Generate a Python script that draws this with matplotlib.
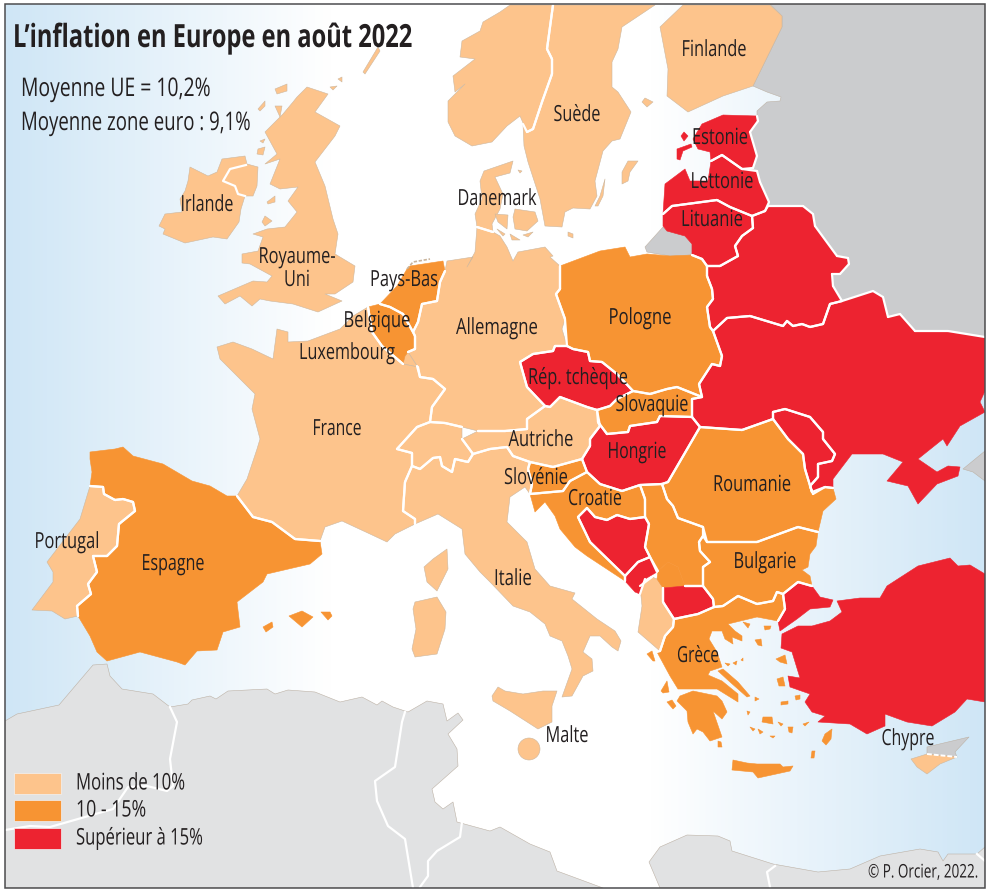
import numpy as np
import matplotlib
matplotlib.use("Agg")
import matplotlib.pyplot as plt
from matplotlib.colors import LinearSegmentedColormap
from matplotlib.path import Path
from matplotlib.patches import Polygon, Rectangle, Circle
from matplotlib.patheffects import AbstractPathEffect
from matplotlib.transforms import Affine2D

plt.rcParams['font.family'] = ['Open Sans', 'DejaVu Sans']

LOW, MID, HIGH = '#FDC48C', '#F79433', '#ED2330'
TEXT = '#231F20'

TITLE = 'L’inflation en Europe en août 2022'
AVERAGES = ['Moyenne UE = 10,2%', 'Moyenne zone euro : 9,1%']
LEGEND = ['Moins de 10%', '10 - 15%', 'Supérieur à 15%']
CREDIT = '© P. Orcier, 2022.'

# Map outlines, in picture coordinates
RUSSIA = [(770,5),(782,17),(782,28),(753,87),(767,93),(781,98),(780,102),(767,103),(757,112),(757,118),(740,140),(740,190),(740,250),(760,300),(800,340),(985,345),(985,5)]
KALININGRAD = [(663,228),(645,248),(647,253),(670,257),(692,256),(692,245),(685,237),(667,232)]
AZOV_RU = [(963,470),(985,452),(985,482),(973,473)]
N_AFRICA = [(5,722),(17,715),(59,706),(93,666),(107,665),(110,677),(122,690),(153,695),(170,708),(188,705),(192,701),(210,697),(216,700),(228,692),(267,690),(275,695),(288,691),(315,693),(340,703),(362,698),(377,706),(382,702),(393,708),(408,713),(427,702),(443,705),(447,722),(458,714),(463,721),(448,735),(457,750),(458,767),(432,790),(435,803),(443,810),(453,803),(457,823),(490,832),(500,828),(530,845),(550,853),(557,872),(603,889),(5,889)]
E_AFRICA = [(660,889),(649,863),(660,848),(687,836),(718,837),(730,842),(732,852),(773,865),(818,873),(850,870),(880,857),(920,850),(938,853),(943,862),(948,855),(977,855),(985,848),(985,889)]
N_CYPRUS = [(927,748),(969,738),(955,753),(957,758),(927,755)]

AFRICA_BORDERS = [
    [(170,708),(177,723),(170,760),(173,787),(167,792),(147,787),(128,788),(113,810),(50,828),(30,827),(5,831)],
    [(405,713),(402,723),(395,768),(375,782),(377,802),(388,827),(405,840),(413,889)],
    [(462,823),(460,838),(437,852),(428,862),(428,877),(420,888)],
    [(775,867),(767,873),(770,888)],
    [(977,855),(985,862)],
]
N_IRELAND_BORDER = [(246,166),(230,170),(223,182),(235,187),(238,195),(245,197)]
CYPRUS_LINE = [(927,755),(957,758)]
FRISIAN = [(407,270),(413,263),(430,260)]

UK = [(307,88),(328,95),(315,113),(340,127),(335,137),(315,163),(325,187),(333,220),(338,235),(335,255),(355,267),(353,283),(335,295),(325,295),(342,302),(318,313),(293,305),(270,302),(260,300),(252,307),(240,297),(225,305),(218,297),(253,282),(267,283),(272,277),(250,265),(242,264),(242,255),(258,252),(263,238),(253,235),(267,230),(285,228),(297,213),(288,202),(298,188),(280,190),(270,185),(280,160),(265,165),(277,155),(265,133),(283,115),(293,103),(297,98)]
UK_ISLES = [
    [(275,90),(287,85),(287,92),(277,95)],
    [(275,107),(282,107),(280,118)],
    [(258,110),(265,102),(265,107),(260,112)],
    [(260,142),(265,140),(263,144)],
    [(258,150),(265,148),(263,156),(257,155)],
    [(363,73),(375,53),(378,48),(380,52),(365,75)],
    [(330,88),(337,87),(333,91)],
    [(338,80),(342,78),(342,83)],
    [(267,203),(275,197),(275,203),(268,205)],
    [(262,223),(265,217),(272,222),(265,227)],
]
IRELAND = [(190,168),(208,177),(217,173),(222,160),(245,157),(247,165),(258,168),(257,187),(253,197),(245,197),(241,210),(239,223),(227,240),(213,238),(185,244),(163,235),(165,230),(159,227),(165,215),(182,213),(180,200),(185,192),(188,182)]
NORWAY = [(510,6),(500,13),(483,23),(480,32),(462,42),(460,58),(475,60),(453,77),(455,93),(465,85),(448,102),(448,123),(455,137),(472,147),(492,143),(507,127),(520,117),(527,133),(533,130),(542,103),(552,75),(552,60),(547,50),(553,6)]
SWEDEN = [(553,6),(547,50),(552,60),(552,75),(542,103),(533,130),(527,133),(523,125),(524,147),(528,163),(540,200),(545,227),(562,228),(565,213),(573,209),(590,210),(597,197),(595,182),(603,152),(612,142),(620,140),(631,113),(618,93),(612,88),(612,63),(618,50),(622,28),(655,6)]
SWEDEN_ISLES = [
    [(622,185),(622,173),(628,162),(638,162),(630,173),(628,182)],
    [(605,180),(600,197),(595,207),(598,207),(603,197)],
]
FINLAND = [(660,28),(683,6),(770,6),(782,17),(782,28),(753,87),(723,97),(688,113),(667,97),(668,70)]
ALAND = [(642,103),(645,99),(653,103),(647,108)]
JUTLAND = [(480,182),(484,172),(513,162),(510,174),(495,178),(503,195),(500,210),(492,225),(493,233),(477,228),(475,215),(482,200)]
DANISH_ISLES = [
    [(495,215),(508,216),(507,230),(498,223)],
    [(515,210),(535,213),(538,222),(527,232),(515,230),(513,218)],
    [(510,235),(520,241),(512,241)],
    [(497,230),(505,235),(503,237)],
    [(523,236),(533,233),(528,238)],
    [(518,171),(522,172),(520,174)],
    [(568,233),(573,235),(573,239),(568,237)],
]
GERMANY = [(447,262),(473,258),(467,268),(475,253),(477,228),(493,233),(500,237),(507,248),(513,262),(518,253),(545,248),(553,257),(550,258),(560,267),(560,290),(556,295),(565,320),(562,330),(567,347),(555,347),(553,352),(533,355),(520,363),(527,388),(545,407),(527,420),(527,430),(505,432),(478,432),(462,428),(445,424),(430,423),(432,408),(445,390),(433,380),(420,378),(417,367),(408,353),(415,350),(415,337),(413,333),(418,323),(422,305),(437,302),(440,283),(445,272)]
NETHERLANDS = [(410,267),(443,262),(445,272),(440,283),(437,302),(422,305),(418,323),(413,333),(403,315),(390,308),(380,305),(397,287),(407,270)]
BELGIUM = [(368,308),(380,305),(390,308),(403,315),(413,333),(415,337),(415,350),(408,353),(405,357),(403,365),(382,347),(372,333)]
LUXEMBOURG = [(403,365),(405,357),(408,353),(417,367),(418,368)]
FRANCE = [(353,317),(368,308),(372,333),(382,347),(403,365),(418,368),(420,378),(433,380),(445,390),(432,408),(430,423),(417,428),(397,450),(412,454),(412,467),(405,483),(403,512),(415,520),(415,525),(395,535),(387,543),(370,535),(342,522),(325,528),(320,542),(295,540),(272,523),(253,518),(237,497),(247,480),(257,450),(260,440),(252,410),(255,395),(240,380),(220,360),(217,348),(233,343),(252,350),(273,360),(277,330),(288,333),(288,343),(308,342),(340,330)]
CORSICA = [(447,550),(448,570),(437,592),(427,583),(424,568),(433,560)]
SPAIN = [(90,453),(115,450),(123,448),(133,457),(163,465),(192,482),(210,487),(227,497),(237,497),(253,518),(272,523),(295,540),(320,542),(322,555),(310,565),(267,575),(263,583),(237,603),(240,628),(223,633),(217,651),(197,652),(185,666),(177,663),(140,653),(107,662),(97,653),(90,637),(78,617),(77,607),(91,595),(88,585),(97,573),(93,557),(107,557),(117,547),(119,525),(135,512),(133,503),(123,500),(115,501),(104,495),(103,488),(90,487),(92,473),(90,460)]
PORTUGAL = [(90,487),(103,488),(104,495),(115,501),(123,500),(133,503),(135,512),(119,525),(117,547),(107,557),(93,557),(97,573),(88,585),(91,595),(77,607),(78,617),(65,620),(52,612),(32,611),(53,583),(53,573),(47,563),(80,520)]
BALEARICS = [
    [(263,628),(272,623),(273,628),(266,633)],
    [(289,617),(302,612),(313,618),(302,628)],
    [(321,613),(330,613),(332,617),(328,621)],
]
SARDINIA = [(415,603),(437,598),(446,613),(445,630),(437,655),(415,658),(412,650),(416,630),(413,610)]
SWITZERLAND = [(397,450),(417,428),(430,423),(445,424),(462,428),(462,440),(473,455),(468,463),(455,460),(452,473),(442,467),(440,458),(433,459),(420,470),(412,467),(412,454)]
AUSTRIA = [(545,407),(550,408),(560,398),(587,408),(597,411),(600,427),(590,440),(590,447),(582,460),(553,468),(530,463),(513,457),(507,448),(490,450),(473,455),(462,440),(478,432),(505,432),(527,430),(527,420)]
SLOVENIA = [(530,463),(553,468),(582,460),(587,473),(570,482),(563,492),(530,495),(532,485),(528,470)]
ITALY = [(412,467),(420,470),(433,459),(440,458),(442,467),(452,473),(455,460),(468,463),(473,455),(490,450),(507,448),(513,457),(530,463),(528,470),(532,485),(530,495),(525,488),(510,498),(507,523),(527,543),(535,570),(550,587),(575,594),(572,600),(597,620),(615,632),(621,642),(618,652),(612,648),(600,637),(590,637),(583,653),(592,660),(593,672),(583,677),(572,697),(562,698),(572,670),(568,657),(562,642),(550,637),(545,625),(530,613),(513,607),(490,583),(480,573),(465,555),(462,530),(438,515),(415,525),(415,520),(403,512),(405,483)]
SICILY = [(492,697),(498,688),(505,692),(523,695),(543,692),(557,692),(552,707),(552,723),(538,730),(510,712),(493,702)]
POLAND = [(560,267),(600,252),(625,248),(630,258),(647,255),(670,257),(692,256),(702,260),(707,267),(707,277),(712,290),(713,300),(707,308),(710,328),(713,332),(722,357),(720,367),(712,365),(699,385),(702,398),(677,388),(667,390),(650,395),(633,392),(617,375),(602,363),(590,362),(588,353),(573,350),(567,347),(565,320),(556,295),(560,290)]
CZECHIA = [(520,363),(533,355),(553,352),(555,347),(567,347),(573,350),(588,353),(590,362),(602,363),(617,375),(633,392),(617,400),(610,407),(597,411),(587,408),(560,398),(550,408),(545,407),(527,388)]
SLOVAKIA = [(633,392),(650,395),(667,390),(677,388),(702,398),(692,400),(692,418),(660,417),(657,423),(630,427),(628,433),(607,435),(598,423),(597,411),(610,407),(617,400)]
UKRAINE = [(985,338),(948,332),(915,332),(900,315),(888,318),(883,298),(873,292),(842,302),(830,305),(823,325),(810,328),(802,325),(793,327),(787,322),(783,327),(750,317),(727,319),(713,332),(722,357),(720,367),(712,365),(699,385),(702,398),(692,400),(692,418),(700,428),(742,431),(773,420),(773,413),(785,410),(810,418),(823,433),(823,440),(835,455),(832,462),(818,465),(818,478),(810,487),(813,495),(825,488),(833,489),(833,480),(852,455),(883,455),(903,463),(887,482),(908,487),(918,505),(937,485),(958,477),(960,468),(948,467),(937,473),(918,460),(943,440),(947,447),(960,427),(985,413),(980,403),(985,392)]
MOLDOVA = [(773,420),(773,413),(785,410),(810,418),(823,433),(823,440),(835,455),(832,462),(818,465),(818,478),(810,487),(812,493),(805,470),(803,455),(788,440)]
BELARUS = [(768,207),(803,207),(813,215),(815,227),(837,257),(848,259),(849,265),(840,275),(832,275),(833,287),(842,302),(830,305),(823,325),(810,328),(802,325),(793,327),(787,322),(783,327),(750,317),(727,319),(713,332),(710,328),(707,308),(713,300),(712,290),(707,277),(707,267),(720,267),(738,257),(735,247),(742,237),(753,229),(752,217),(765,212)]
LITHUANIA = [(663,215),(672,207),(717,201),(730,208),(752,217),(753,229),(742,237),(735,247),(738,257),(720,267),(707,267),(702,260),(692,256),(692,245),(685,237),(667,232),(663,227)]
LATVIA = [(663,215),(665,185),(685,170),(690,182),(708,182),(711,162),(722,156),(742,170),(757,172),(760,183),(769,203),(765,212),(752,217),(730,208),(717,201),(672,207)]
ESTONIA = [(702,125),(723,116),(757,117),(758,122),(750,133),(757,157),(753,169),(742,170),(722,156),(711,162),(710,153),(698,150),(693,140)]
ESTONIA_ISLES = [
    [(677,150),(691,145),(692,148),(683,152),(680,161),(677,160)],
    [(681,137),(684,133),(688,137),(684,142)],
]
ROMANIA = [(700,428),(742,431),(773,420),(788,440),(803,455),(805,470),(812,493),(825,488),(833,489),(836,500),(823,512),(818,533),(798,528),(757,543),(707,543),(703,528),(678,519),(673,507),(667,500),(662,485),(668,483),(693,440)]
HUNGARY = [(598,423),(607,435),(628,433),(630,427),(657,423),(660,417),(692,418),(700,428),(693,440),(668,483),(662,485),(640,486),(622,492),(600,485),(587,473),(582,460),(590,447),(590,440),(600,427)]
CROATIA = [(587,473),(600,485),(622,492),(640,486),(645,500),(645,518),(630,520),(617,516),(607,521),(595,518),(587,509),(578,518),(590,543),(625,577),(625,582),(587,557),(575,548),(560,530),(555,517),(545,503),(535,513),(530,495),(563,492),(570,482)]
BOSNIA = [(578,518),(587,509),(595,518),(607,521),(617,516),(630,520),(645,518),(649,525),(645,548),(650,558),(638,563),(625,577),(590,543)]
MONTENEGRO = [(625,582),(625,577),(638,563),(650,558),(657,573),(645,580),(640,595),(635,593)]
SERBIA = [(640,486),(662,485),(667,500),(673,507),(678,519),(703,528),(703,537),(699,543),(700,552),(710,563),(703,568),(703,587),(685,587),(678,568),(668,563),(658,572),(650,558),(645,548),(649,525),(645,518),(645,500)]
KOSOVO = [(658,572),(668,563),(678,568),(685,587),(663,589),(657,580)]
N_MACEDONIA = [(663,589),(685,587),(703,587),(713,600),(714,608),(698,615),(674,620),(663,603)]
ALBANIA = [(640,587),(652,578),(657,580),(663,589),(663,603),(674,620),(673,628),(665,637),(660,652),(638,633),(642,607)]
BULGARIA = [(707,543),(757,543),(798,528),(818,533),(816,547),(810,555),(808,568),(802,571),(810,577),(812,587),(798,583),(783,595),(777,593),(773,602),(757,605),(738,597),(723,607),(714,608),(713,600),(703,587),(703,568),(710,563),(700,552),(699,543),(703,537)]
GREECE = [(674,620),(698,615),(714,608),(723,607),(738,597),(757,605),(773,602),(777,593),(783,595),(785,610),(778,622),(757,618),(728,625),(735,632),(742,637),(742,642),(732,638),(733,645),(725,640),(722,632),(712,632),(709,640),(717,653),(722,668),(710,672),(708,676),(722,682),(738,695),(738,703),(717,690),(678,690),(670,677),(657,653),(660,652),(665,637),(673,628)]
EVIA = [(718,672),(723,670),(738,683),(750,697),(747,698),(730,683)]
PELOPONNESE = [(677,702),(680,697),(693,692),(717,697),(722,702),(727,713),(722,720),(713,712),(722,738),(710,742),(703,733),(697,730),(693,735),(688,723),(687,712)]
AEGEAN = [
    [(733,761),(747,764),(757,765),(780,765),(783,768),(793,767),(790,772),(758,779),(753,773),(732,771)],
    [(832,730),(831,740),(826,746),(822,742),(825,735)],
    [(812,752),(815,752),(814,759),(811,759)],
    [(776,660),(785,656),(787,665),(780,663)],
    [(777,680),(783,678),(785,687),(779,687)],
    [(781,703),(788,702),(788,705),(781,706)],
    [(795,697),(800,696),(800,700),(796,701)],
    [(755,641),(761,640),(762,647),(758,646)],
    [(743,623),(750,625),(748,629)],
    [(764,627),(771,627),(770,630),(765,631)],
    [(763,718),(772,718),(773,725),(762,723)],
    [(747,712),(750,713),(748,716)],
    [(778,723),(783,725),(781,727)],
    [(788,728),(793,728),(792,734),(789,733)],
    [(750,728),(755,730),(753,732)],
    [(758,730),(763,733),(760,735)],
    [(803,725),(809,723),(805,727)],
    [(770,737),(775,737),(773,739)],
    [(755,698),(759,700),(755,702)],
    [(647,655),(652,652),(655,662),(653,662)],
    [(661,692),(667,682),(669,693),(663,694)],
    [(667,703),(672,701),(676,707),(673,710)],
    [(718,742),(721,743),(722,748),(718,748)],
    [(725,664),(730,665),(728,667)],
    [(733,664),(737,662),(736,666)],
    [(741,661),(743,659),(743,662)],
]
TURKEY = [(837,602),(860,599),(880,599),(887,587),(918,567),(950,559),(958,567),(970,566),(985,575),(985,703),(967,700),(955,713),(932,727),(907,723),(885,715),(885,727),(867,735),(850,725),(818,723),(825,717),(812,713),(805,703),(810,695),(790,688),(788,677),(800,679),(792,653),(781,649),(782,635),(798,627),(812,627),(830,622),(842,613)]
THRACE = [(783,595),(798,583),(812,587),(820,598),(833,601),(830,608),(810,610),(797,620),(780,632),(778,622),(785,610)]
CYPRUS = [(911,760),(927,755),(957,758),(940,765),(927,775),(917,768)]
MALTA_CENTRE = (529,750)

# Inflation class of every territory
LOW_SHAPES = [UK, *UK_ISLES, IRELAND, NORWAY, SWEDEN, *SWEDEN_ISLES, FINLAND, ALAND, JUTLAND, *DANISH_ISLES, GERMANY, LUXEMBOURG, FRANCE, CORSICA, PORTUGAL, SARDINIA, SWITZERLAND, AUSTRIA, ITALY, SICILY, ALBANIA, CYPRUS]
MID_SHAPES = [NETHERLANDS, BELGIUM, SPAIN, *BALEARICS, SLOVENIA, POLAND, SLOVAKIA, ROMANIA, CROATIA, SERBIA, KOSOVO, BULGARIA, GREECE, EVIA, PELOPONNESE, *AEGEAN]
HIGH_SHAPES = [CZECHIA, UKRAINE, MOLDOVA, BELARUS, LITHUANIA, LATVIA, ESTONIA, *ESTONIA_ISLES, HUNGARY, BOSNIA, MONTENEGRO, N_MACEDONIA, TURKEY, THRACE]

# text, centre x, centre y, width in the picture
LABELS = [
    ('Finlande',714,49,65),('Suède',577,114,47),('Estonie',720,137,56),('Lettonie',722,181,63),('Lituanie',712,219,62),
    ('Danemark',497,198,79),('Irlande',207,204,53),('Royaume-',297,256,77),('Uni',297,279,26),('Pays-Bas',404,279,68),
    ('Belgique',377,320,67),('Luxembourg',347,352,96),('Allemagne',497,327,82),('Pologne',640,317,63),
    ('Rép. tchèque',578,377,100),('Slovaquie',652,404,73),('France',337,428,49),('Autriche',541,439,65),('Hongrie',637,451,59),
    ('Slovénie',536,477,64),('Croatie',595,498,54),('Roumanie',752,484,78),('Portugal',67,541,65),('Espagne',173,563,63),
    ('Bulgarie',765,561,63),('Italie',513,578,38),('Grèce',698,655,42),('Malte',567,735,43),('Chypre',908,738,53),
]

fig = plt.figure(figsize=(10, 8.95), dpi=100)
ax = fig.add_axes([0, 0, 1, 1])
ax.set_xlim(0, 1000)
ax.set_ylim(895, 0)
ax.axis('off')

frame = Rectangle((5, 5), 980, 884, transform=ax.transData, facecolor='none', edgecolor='none')
ax.add_patch(frame)

# Sea: horizontal gradient
cmap = LinearSegmentedColormap.from_list('sea', [(0, '#CFE6F6'), (0.33, '#FFFFFF'), (0.66, '#FFFFFF'), (1, '#CFE6F6')])
ax.imshow(np.linspace(0, 1, 512).reshape(1, -1), cmap=cmap, extent=(5, 985, 889, 5), aspect='auto', zorder=0)
ax.set_xlim(0, 1000)
ax.set_ylim(895, 0)

def add(poly, face, edge, lw=0.4, z=2):
    p = Polygon(poly, closed=True, facecolor=face, edgecolor=edge, linewidth=lw, zorder=z, joinstyle='round')
    ax.add_patch(p)
    p.set_clip_path(frame)
    return p

for poly in [RUSSIA, KALININGRAD, AZOV_RU]:
    add(poly, '#CBCCCE', '#BDB2A6')
for poly in [N_AFRICA, E_AFRICA]:
    add(poly, '#E1E2E3', '#BDB2A6')
add(N_CYPRUS, '#CBCCCE', '#BDB2A6')

shapes = [(s, LOW) for s in LOW_SHAPES] + [(s, MID) for s in MID_SHAPES] + [(s, HIGH) for s in HIGH_SHAPES]
for s, col in shapes:
    add(s, col, {LOW: '#CDB8A0', MID: col, HIGH: col}[col], z=3)
ax.add_patch(Circle(MALTA_CENTRE, 11, facecolor=LOW, edgecolor='#CDB8A0', linewidth=0.4, zorder=3))

# Land borders: polygon edges that run along a neighbour or the eastern grey land
def dense(poly, step=2.0):
    pts = np.array(list(poly) + [poly[0]], float)
    out = []
    for a, b in zip(pts[:-1], pts[1:]):
        n = max(int(np.hypot(*(b - a)) / step), 1)
        out.append(a + (b - a) * np.linspace(0, 1, n, endpoint=False)[:, None])
    return np.vstack(out)

all_polys = [s for s, _ in shapes if len(s) > 7]
dense_polys = [dense(s) for s in all_polys]
grey_paths = [Path(RUSSIA), Path(KALININGRAD)]
for i, s in enumerate(all_polys):
    pts = np.array(list(s) + [s[0]], float)
    others = np.vstack([d for j, d in enumerate(dense_polys) if j != i])
    for a, b in zip(pts[:-1], pts[1:]):
        t = np.linspace(0.1, 0.9, 5)[:, None]
        sam = a + (b - a) * t
        d = np.sqrt(((sam[:, None, :] - others[None, :, :]) ** 2).sum(-1)).min(1)
        near = d < 3.2
        ingrey = np.any([g.contains_points(sam) for g in grey_paths], axis=0)
        if np.all(near | ingrey):
            ln, = ax.plot([a[0], b[0]], [a[1], b[1]], color='white', lw=1.6, solid_capstyle='round', zorder=4)
            ln.set_clip_path(frame)

for line in AFRICA_BORDERS + [N_IRELAND_BORDER]:
    xs, ys = zip(*line)
    ln, = ax.plot(xs, ys, color='white', lw=1.6, solid_joinstyle='round', zorder=4)
    ln.set_clip_path(frame)
xs, ys = zip(*CYPRUS_LINE)
ax.plot(xs, ys, color='white', lw=1.4, ls=(0, (2.5, 1)), zorder=4)
xs, ys = zip(*FRISIAN)
ax.plot(xs, ys, color='#C9B49C', lw=1.2, ls=(0, (2, 1)), zorder=4)

# Frame
ax.add_patch(Rectangle((5, 5), 980, 884, facecolor='none', edgecolor='#4D4D4F', linewidth=1.1, zorder=6))

# The reference uses a condensed face: squeeze real text to its width in the picture
class Squeeze(AbstractPathEffect):
    def __init__(self, sx, anchor):
        super().__init__()
        self.sx, self.anchor = sx, anchor
    def draw_path(self, renderer, gc, tpath, affine, rgbFace=None):
        squeeze = Affine2D().translate(-self.anchor, 0).scale(self.sx, 1).translate(self.anchor, 0)
        renderer.draw_path(gc, tpath, affine + squeeze, rgbFace)

renderer = fig.canvas.get_renderer()
def put(x, y, s, size, width, ha='center', weight='normal'):
    t = ax.text(x, y + 2.5, s, fontsize=size, fontweight=weight, color=TEXT, va='center', ha=ha, zorder=7)
    natural = t.get_window_extent(renderer).width
    t.set_path_effects([Squeeze(width / natural, ax.transData.transform((x, y))[0])])
    return t

put(13, 37, TITLE, 23, 400, ha='left', weight='bold')
for txt, y, w in zip(AVERAGES, [88, 122], [190, 230]):
    put(21, y, txt, 18.5, w, ha='left')
for txt, x, y, w in LABELS:
    put(x, y, txt, 16, w)

# Legend
for col, lab, y, w in zip([LOW, MID, HIGH], LEGEND, [774, 801, 829], [109, 70, 127]):
    ax.add_patch(Rectangle((14, y), 47, 21, facecolor=col, edgecolor='#F2F2F2', linewidth=0.5, zorder=5))
    put(76, y + 8, lab, 16.5, w, ha='left')
put(978, 871, CREDIT, 13.5, 110, ha='right')

fig.savefig('out.png', dpi=100)
